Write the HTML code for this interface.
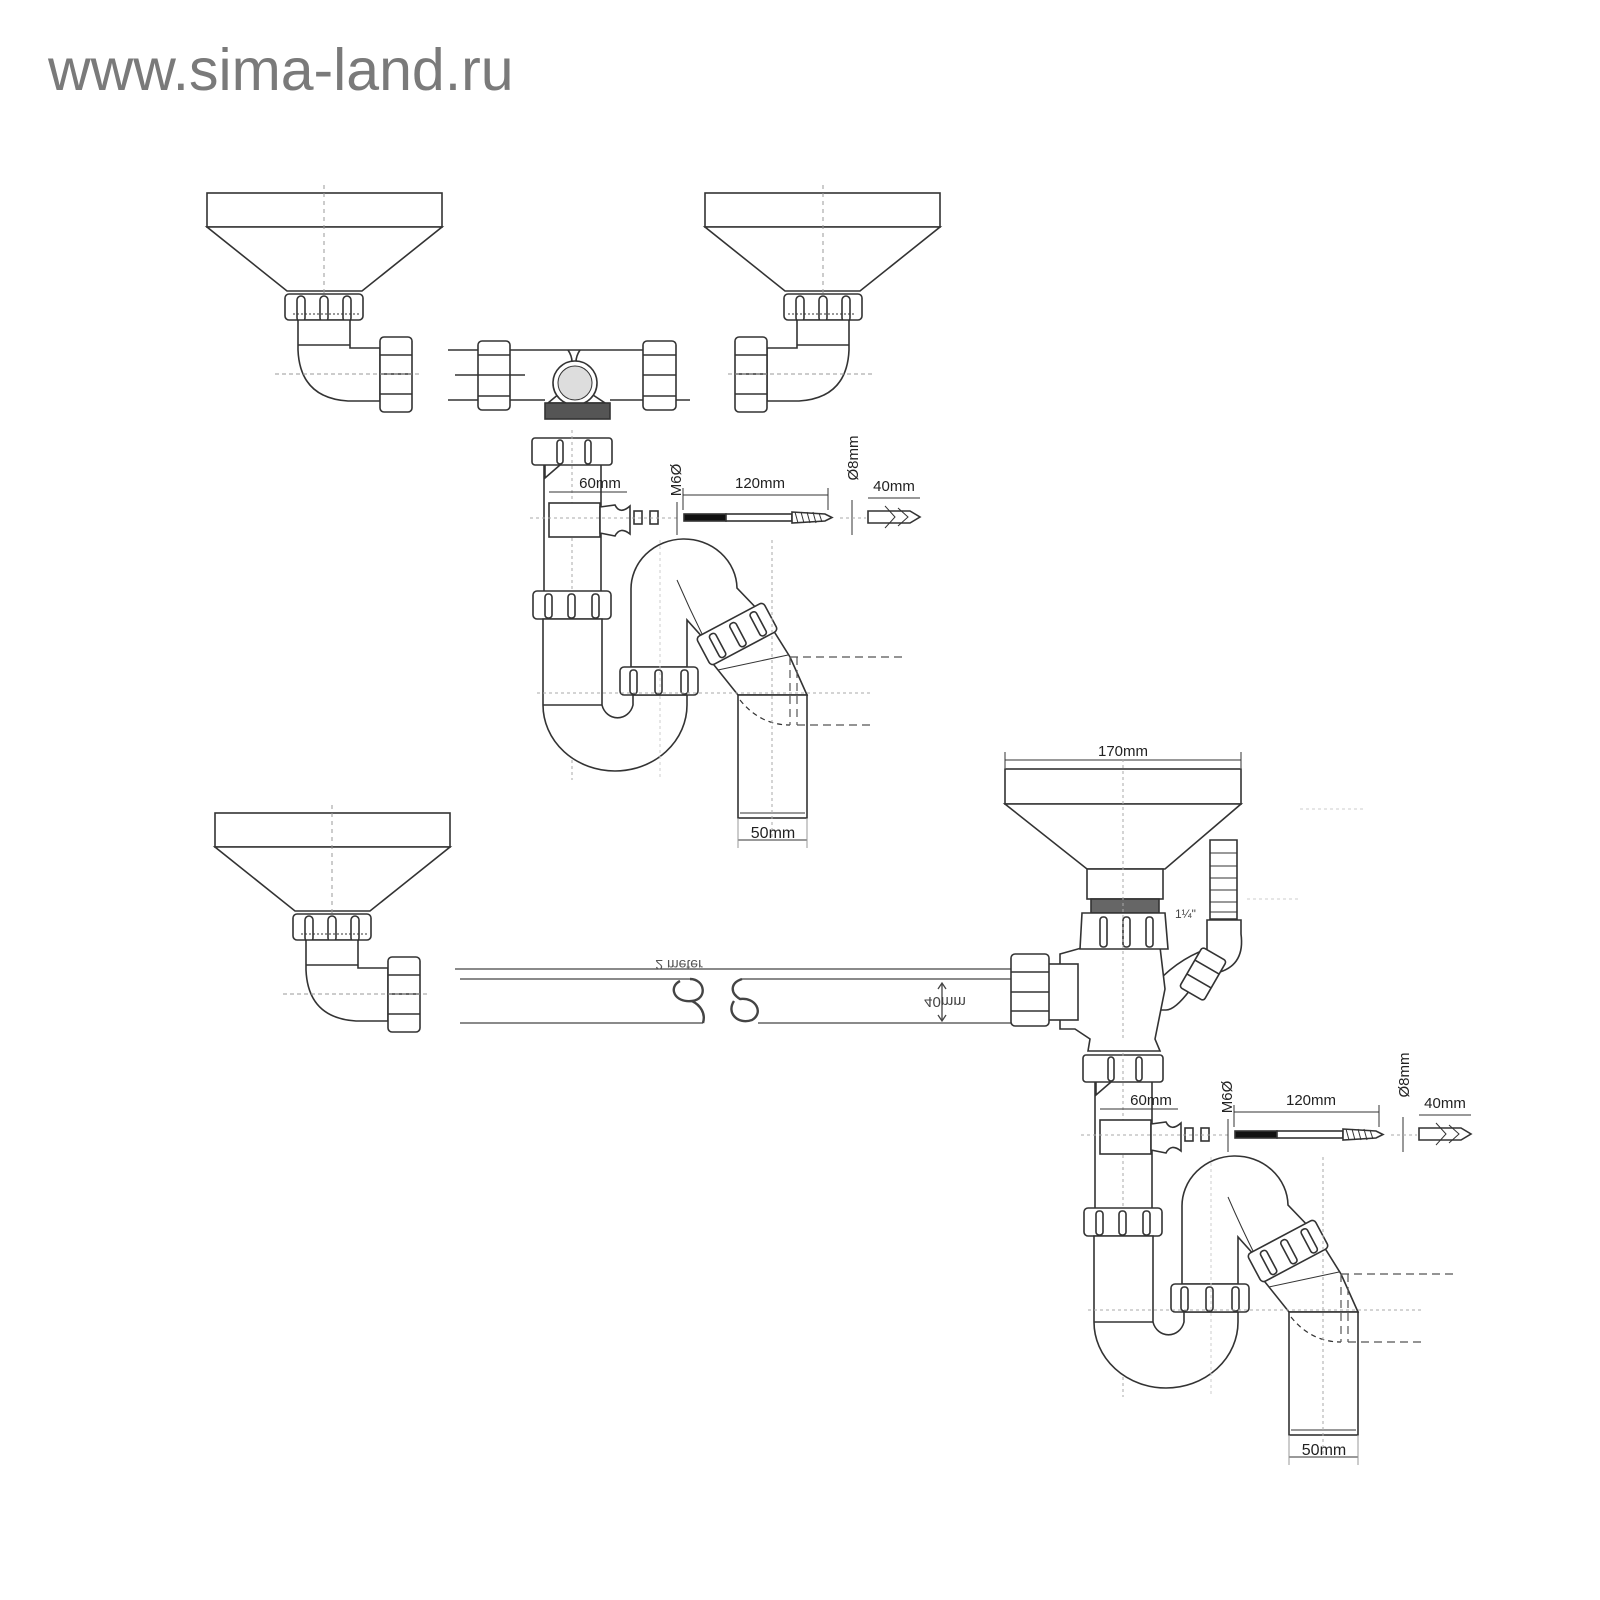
<!DOCTYPE html>
<html><head><meta charset="utf-8"><style>
html,body{margin:0;padding:0;background:#fff}
svg{display:block}
text{font-family:"Liberation Sans",sans-serif;fill:#222}
</style></head><body>
<svg width="1600" height="1600" viewBox="0 0 1600 1600" xmlns="http://www.w3.org/2000/svg">
<text x="48" y="90" font-size="59" style="fill:#7a7a7a">www.sima-land.ru</text>
<defs>
<g id="funnel" fill="#fff" stroke="#333" stroke-width="1.6">
  <rect x="207" y="193" width="235" height="34"/>
  <polygon points="207,227 442,227 362,291 287,291"/>
  <line x1="324" y1="185" x2="324" y2="360" stroke="#999" stroke-width="1" stroke-dasharray="4,4"/>
  <rect x="285" y="294" width="78" height="26" rx="4"/>
  <rect x="297" y="296" width="8" height="26" rx="4"/><rect x="320" y="296" width="8" height="26" rx="4"/><rect x="343" y="296" width="8" height="26" rx="4"/>
  <line x1="293" y1="314" x2="360" y2="314" stroke-dasharray="2,2" stroke-width="1"/>
  <path d="M298,320 L298,350 Q300,398 348,401 L380,401 L380,348 L350,348 L350,320 Z"/>
  <line x1="298" y1="345" x2="350" y2="345"/>
  <rect x="380" y="337" width="32" height="75" rx="4"/>
  <line x1="380" y1="355" x2="412" y2="355"/><line x1="380" y1="374" x2="412" y2="374"/><line x1="380" y1="394" x2="412" y2="394"/>
  <line x1="275" y1="374" x2="420" y2="374" stroke="#999" stroke-width="1" stroke-dasharray="4,3"/>
</g>
<g id="trap" fill="#fff" stroke="#333" stroke-width="1.6">
  <rect x="532" y="438" width="80" height="27" rx="3"/>
  <path d="M545,465 L545,478 L560,465" fill="none"/>
  <rect x="557" y="440" width="6" height="24" rx="3"/><rect x="585" y="440" width="6" height="24" rx="3"/>
  <line x1="544" y1="465" x2="544" y2="591"/><line x1="601" y1="465" x2="601" y2="591"/>
  <line x1="572" y1="430" x2="572" y2="780" stroke="#aaa" stroke-width="1" stroke-dasharray="3,3"/>
  <rect x="549" y="503" width="51" height="34"/>
  <path d="M600,507 L615,505 Q620,515 630,506 L630,534 Q620,526 615,536 L600,533 Z"/>
  <rect x="634" y="511" width="8" height="13"/><rect x="650" y="511" width="8" height="13"/>
  <line x1="530" y1="518" x2="680" y2="518" stroke="#aaa" stroke-width="1" stroke-dasharray="3,3"/>
  <line x1="549" y1="492" x2="627" y2="492" stroke-width="1"/>
  <rect x="533" y="591" width="78" height="28" rx="4"/>
  <rect x="545" y="594" width="7" height="24" rx="3"/><rect x="568" y="594" width="7" height="24" rx="3"/><rect x="592" y="594" width="7" height="24" rx="3"/>
  <path d="M543,619 L543,705 A72,66 0 0 0 687,705 L687,695 L633,695 L633,705 A16,17 0 0 1 602,705 L602,619 Z"/>
  <line x1="543" y1="705" x2="602" y2="705"/>
  <path d="M631,667 L631,590 A53,50 0 0 1 737,588 L760,612 L705,640 L687,620 L687,667 Z"/>
  <path d="M677,580 Q690,610 705,640" fill="none" stroke-width="1"/>
  <rect x="620" y="667" width="78" height="28" rx="4"/>
  <rect x="630" y="670" width="7" height="24" rx="3"/><rect x="655" y="670" width="7" height="24" rx="3"/><rect x="681" y="670" width="7" height="24" rx="3"/>
  <path d="M710,660 L738,695 L807,695 L790,657 L770,625 Z"/>
  <line x1="718" y1="670" x2="788" y2="655" stroke-width="1"/>
  <g transform="translate(737,634) rotate(-28)">
    <rect x="-38" y="-16" width="76" height="32" rx="4"/>
    <rect x="-26" y="-12" width="7" height="26" rx="3"/><rect x="-3" y="-12" width="7" height="26" rx="3"/><rect x="20" y="-12" width="7" height="26" rx="3"/>
  </g>
  <rect x="738" y="695" width="69" height="123"/>
  <line x1="740" y1="813" x2="805" y2="813" stroke-width="1"/>
  <path d="M740,700 Q760,725 790,725" fill="none" stroke-dasharray="5,4" stroke-width="1.2"/>
  <path d="M790,657 L790,725 M797,657 L797,725 M790,657 L905,657 M797,725 L870,725" fill="none" stroke="#555" stroke-width="1.2" stroke-dasharray="8,5"/>
  <line x1="537" y1="693" x2="870" y2="693" stroke="#aaa" stroke-width="1" stroke-dasharray="3,3"/>
  <line x1="772" y1="540" x2="772" y2="840" stroke="#aaa" stroke-width="1" stroke-dasharray="3,3"/>
  <line x1="660" y1="540" x2="660" y2="780" stroke="#ccc" stroke-width="1" stroke-dasharray="3,3"/>
  <line x1="738" y1="840" x2="807" y2="840" stroke-width="1"/>
  <line x1="738" y1="818" x2="738" y2="848" stroke-width="1" stroke="#999"/><line x1="807" y1="818" x2="807" y2="848" stroke-width="1" stroke="#999"/>
  <rect x="684" y="514" width="42" height="7" fill="#111"/>
  <rect x="726" y="514" width="66" height="7"/>
  <path d="M792,512 L825,514 L832,517.5 L825,521 L792,523 Z" fill="#fff"/>
  <path d="M795,512 l3,11 M801,512 l3,11 M807,512 l3,11 M813,512 l3,11 M819,513 l3,9" stroke-width="1"/>
  <line x1="683" y1="495" x2="828" y2="495" stroke-width="1"/>
  <line x1="683" y1="488" x2="683" y2="510" stroke-width="1"/><line x1="828" y1="488" x2="828" y2="510" stroke-width="1"/>
  <line x1="677" y1="502" x2="677" y2="535" stroke-width="1"/>
  <line x1="852" y1="500" x2="852" y2="535" stroke-width="1"/>
  <path d="M868,511 L910,511 L920,517 L910,523 L868,523 Z"/>
  <path d="M885,506 L895,517 L885,528 M898,508 L908,517 L898,526" fill="none" stroke-width="1"/>
  <line x1="868" y1="498" x2="920" y2="498" stroke-width="1"/>
  <line x1="840" y1="518" x2="866" y2="518" stroke="#aaa" stroke-width="1" stroke-dasharray="3,3"/>
  <g stroke="none" fill="#222" font-size="15">
    <text x="600" y="488" text-anchor="middle">60mm</text>
    <text x="760" y="488" text-anchor="middle">120mm</text>
    <text x="894" y="491" text-anchor="middle">40mm</text>
    <text x="773" y="838" text-anchor="middle" font-size="16">50mm</text>
    <text transform="translate(681,480) rotate(-90)" text-anchor="middle">M6Ø</text>
    <text transform="translate(858,458) rotate(-90)" text-anchor="middle">Ø8mm</text>
  </g>
</g>
</defs>

<use href="#funnel"/>
<use href="#funnel" transform="translate(1147,0) scale(-1,1)"/>
<use href="#funnel" transform="translate(8,620)"/>

<g fill="#fff" stroke="#333" stroke-width="1.6">
  <path d="M448,350 L670,350 M448,400 L545,400 M610,400 L690,400 M455,375 L525,375" fill="none"/>
  <path d="M568,350 Q572,356 572,362 M580,350 Q576,356 576,362" fill="none"/>
  <rect x="478" y="341" width="32" height="69" rx="4"/>
  <line x1="478" y1="355" x2="510" y2="355"/><line x1="478" y1="375" x2="510" y2="375"/><line x1="478" y1="396" x2="510" y2="396"/>
  <rect x="643" y="341" width="33" height="69" rx="4"/>
  <line x1="643" y1="355" x2="676" y2="355"/><line x1="643" y1="375" x2="676" y2="375"/><line x1="643" y1="396" x2="676" y2="396"/>
  <path d="M548,403 L560,393 L590,393 L605,403 Z"/>
  <circle cx="575" cy="383" r="22"/>
  <circle cx="575" cy="383" r="17" fill="#ddd" stroke-width="1"/>
  <rect x="545" y="403" width="65" height="16" fill="#555"/>
</g>

<use href="#trap"/>
<use href="#trap" transform="translate(551,617)"/>

<!-- long pipe -->
<g transform="translate(0,-7)">
<g fill="none" stroke="#444" stroke-width="1.3">
  <line x1="455" y1="976" x2="1015" y2="976"/>
  <line x1="460" y1="986" x2="690" y2="986"/><line x1="742" y1="986" x2="1015" y2="986"/>
  <line x1="460" y1="1030" x2="703" y2="1030"/><line x1="758" y1="1030" x2="1015" y2="1030"/>
  <path d="M690,986 C705,986 708,1006 692,1008 C674,1010 668,994 680,988 M692,1008 C700,1012 706,1020 703,1030" stroke-width="2.4"/>
  <path d="M742,986 C730,990 730,1000 740,1006 C756,1004 764,1020 752,1027 C738,1032 726,1020 734,1008" stroke-width="2.4"/>
  <path d="M942,990 L942,1028 M938,996 L942,990 L946,996 M938,1022 L942,1028 L946,1022"/>
</g>
<text transform="translate(679,967) scale(1,-1)" font-size="14" text-anchor="middle" style="fill:#555">2 meter</text>
<text transform="translate(945,1004) scale(1,-1)" font-size="15" text-anchor="middle" style="fill:#444">40mm</text>
</g>

<!-- bottom right unit -->
<g transform="translate(-5,-6)">
<g fill="#fff" stroke="#333" stroke-width="1.6">
  <line x1="1010" y1="766" x2="1246" y2="766" stroke-width="1"/>
  <line x1="1010" y1="758" x2="1010" y2="774" stroke-width="1"/><line x1="1246" y1="758" x2="1246" y2="774" stroke-width="1"/>
  <rect x="1010" y="775" width="236" height="35"/>
  <polygon points="1010,810 1246,810 1170,875 1092,875"/>
  <rect x="1092" y="875" width="76" height="30"/>
  <rect x="1096" y="905" width="68" height="14" fill="#666"/>
  <path d="M1215,846 L1242,846 L1242,925 L1215,925 Z"/>
  <path d="M1215,859 L1242,859 M1215,872 L1242,872 M1215,884 L1242,884 M1215,896 L1242,896 M1215,908 L1242,908 M1215,918 L1242,918" stroke-width="1"/>
  <path d="M1212,926 L1246,926 L1246,940 Q1250,970 1225,978 L1195,996 Q1180,1016 1171,1016 L1155,1016 L1155,996 Q1180,966 1212,955 Z"/>
  <g transform="translate(1208,980) rotate(-60)">
    <rect x="-23" y="-14" width="46" height="28" rx="3"/>
    <line x1="-8" y1="-14" x2="-8" y2="14"/><line x1="8" y1="-14" x2="8" y2="14"/>
  </g>
  <path d="M1065,960 L1090,953 L1165,953 L1170,995 L1160,1045 L1165,1057 L1093,1057 L1095,1045 L1080,1035 L1065,1035 Z"/>
  <path d="M1087,919 L1170,919 L1173,955 L1085,955 Z"/>
  <rect x="1105" y="923" width="7" height="30" rx="3"/><rect x="1128" y="923" width="7" height="30" rx="3"/><rect x="1151" y="923" width="7" height="30" rx="3"/>
  <rect x="1053" y="970" width="30" height="56"/>
  <rect x="1016" y="960" width="38" height="72" rx="4"/>
  <line x1="1016" y1="978" x2="1054" y2="978"/><line x1="1016" y1="998" x2="1054" y2="998"/><line x1="1016" y1="1017" x2="1054" y2="1017"/>
  <line x1="1128" y1="765" x2="1128" y2="1045" stroke="#aaa" stroke-width="1" stroke-dasharray="3,3"/>
  <line x1="1305" y1="815" x2="1370" y2="815" stroke="#ccc" stroke-width="1" stroke-dasharray="3,3"/>
  <line x1="1252" y1="905" x2="1305" y2="905" stroke="#ccc" stroke-width="1" stroke-dasharray="3,3"/>
</g>
<text x="1128" y="762" font-size="15" text-anchor="middle">170mm</text>
<text x="1180" y="924" font-size="12" style="fill:#444">1¼"</text>
</g>
</svg>
</body></html>
